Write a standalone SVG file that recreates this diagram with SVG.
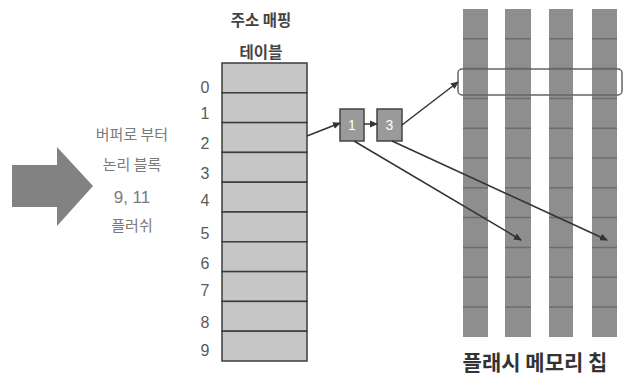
<svg xmlns="http://www.w3.org/2000/svg" width="629" height="378" viewBox="0 0 629 378">
<defs>
<style>
text{font-family:"Noto Sans CJK KR","Noto Sans",sans-serif;}
.lbl{font-size:15px;fill:#7a7a7a;text-anchor:middle;}
.idx{font-family:"Liberation Sans",sans-serif;font-size:16px;fill:#5a5a5a;text-anchor:middle;}
.title{font-size:15.5px;font-weight:bold;fill:#444;text-anchor:middle;}
.row{fill:#c6c6c6;stroke:#3c3c3c;stroke-width:1.5;}
.col{fill:#8e8e8e;}
.cl{stroke:#6c6c6c;stroke-width:1.5;}
.box{fill:#9a9a9a;stroke:#444;stroke-width:1.5;}
.bt{font-family:"Liberation Sans",sans-serif;font-size:14px;fill:#fff;text-anchor:middle;}
.con{stroke:#333;stroke-width:1.5;fill:none;marker-end:url(#ah);}
</style>
<marker id="ah" markerWidth="8" markerHeight="8" refX="7" refY="4" orient="auto" markerUnits="userSpaceOnUse">
<path d="M0,0.5 L8,4 L0,7.5 Z" fill="#333"/>
</marker>
</defs>
<rect width="629" height="378" fill="#fff"/>
<g id="big-arrow">
<path d="M12,165 L57,165 L57,147 L93,186 L57,226 L57,207 L12,207 Z" fill="#828282"/>
</g>
<g id="flush-label">
<text class="lbl" x="132" y="140">버퍼로 부터</text>
<text class="lbl" x="132" y="170">논리 블록</text>
<text class="lbl" x="132" y="203" style="font-family:'Liberation Sans',sans-serif;font-size:17px">9, 11</text>
<text class="lbl" x="132" y="231">플러쉬</text>
</g>
<g id="mapping-table">
<text class="title" x="261" y="26">주소 매핑</text>
<text class="title" x="261" y="58">테이블</text>
<rect class="row" x="222" y="63" width="85" height="29.8"/>
<rect class="row" x="222" y="92.8" width="85" height="29.8"/>
<rect class="row" x="222" y="122.6" width="85" height="29.8"/>
<rect class="row" x="222" y="152.4" width="85" height="29.8"/>
<rect class="row" x="222" y="182.2" width="85" height="29.8"/>
<rect class="row" x="222" y="212" width="85" height="29.8"/>
<rect class="row" x="222" y="241.8" width="85" height="29.8"/>
<rect class="row" x="222" y="271.6" width="85" height="29.8"/>
<rect class="row" x="222" y="301.4" width="85" height="29.8"/>
<rect class="row" x="222" y="331.2" width="85" height="29.8"/>
<text class="idx" x="205" y="93">0</text>
<text class="idx" x="205" y="119">1</text>
<text class="idx" x="205" y="149">2</text>
<text class="idx" x="205" y="179">3</text>
<text class="idx" x="205" y="206">4</text>
<text class="idx" x="205" y="239">5</text>
<text class="idx" x="205" y="269">6</text>
<text class="idx" x="205" y="296">7</text>
<text class="idx" x="205" y="328">8</text>
<text class="idx" x="205" y="356">9</text>
</g>
<g id="node-1">
<rect class="box" x="340" y="109" width="24" height="32"/>
<text class="bt" x="352" y="130">1</text>
</g>
<g id="node-3">
<rect class="box" x="377" y="109" width="25" height="32"/>
<text class="bt" x="389.5" y="130">3</text>
</g>
<g id="flash-chip">
<rect class="col" x="463" y="9" width="25" height="328"/>
<rect class="col" x="505" y="9" width="26" height="328"/>
<rect class="col" x="549" y="9" width="24" height="328"/>
<rect class="col" x="592" y="9" width="25" height="328"/>
<g class="cl">
<path d="M463,38.8H488M505,38.8H531M549,38.8H573M592,38.8H617"/>
<path d="M463,68.6H488M505,68.6H531M549,68.6H573M592,68.6H617"/>
<path d="M463,98.4H488M505,98.4H531M549,98.4H573M592,98.4H617"/>
<path d="M463,128.2H488M505,128.2H531M549,128.2H573M592,128.2H617"/>
<path d="M463,158H488M505,158H531M549,158H573M592,158H617"/>
<path d="M463,187.8H488M505,187.8H531M549,187.8H573M592,187.8H617"/>
<path d="M463,217.6H488M505,217.6H531M549,217.6H573M592,217.6H617"/>
<path d="M463,247.4H488M505,247.4H531M549,247.4H573M592,247.4H617"/>
<path d="M463,277.2H488M505,277.2H531M549,277.2H573M592,277.2H617"/>
<path d="M463,307H488M505,307H531M549,307H573M592,307H617"/>
</g>
<rect x="458" y="69" width="164" height="26" rx="4" fill="none" stroke="#666" stroke-width="1.5"/>
<text x="535" y="370" style="font-size:21px;font-weight:bold;fill:#333;text-anchor:middle;">플래시 메모리 칩</text>
</g>
<g id="connectors">
<line class="con" x1="307" y1="136" x2="340" y2="123"/>
<line class="con" x1="364" y1="124" x2="377" y2="124"/>
<line class="con" x1="402" y1="125" x2="458" y2="82"/>
<line class="con" x1="354" y1="141" x2="521" y2="240"/>
<line class="con" x1="392" y1="141" x2="607" y2="240"/>
</g>
</svg>
